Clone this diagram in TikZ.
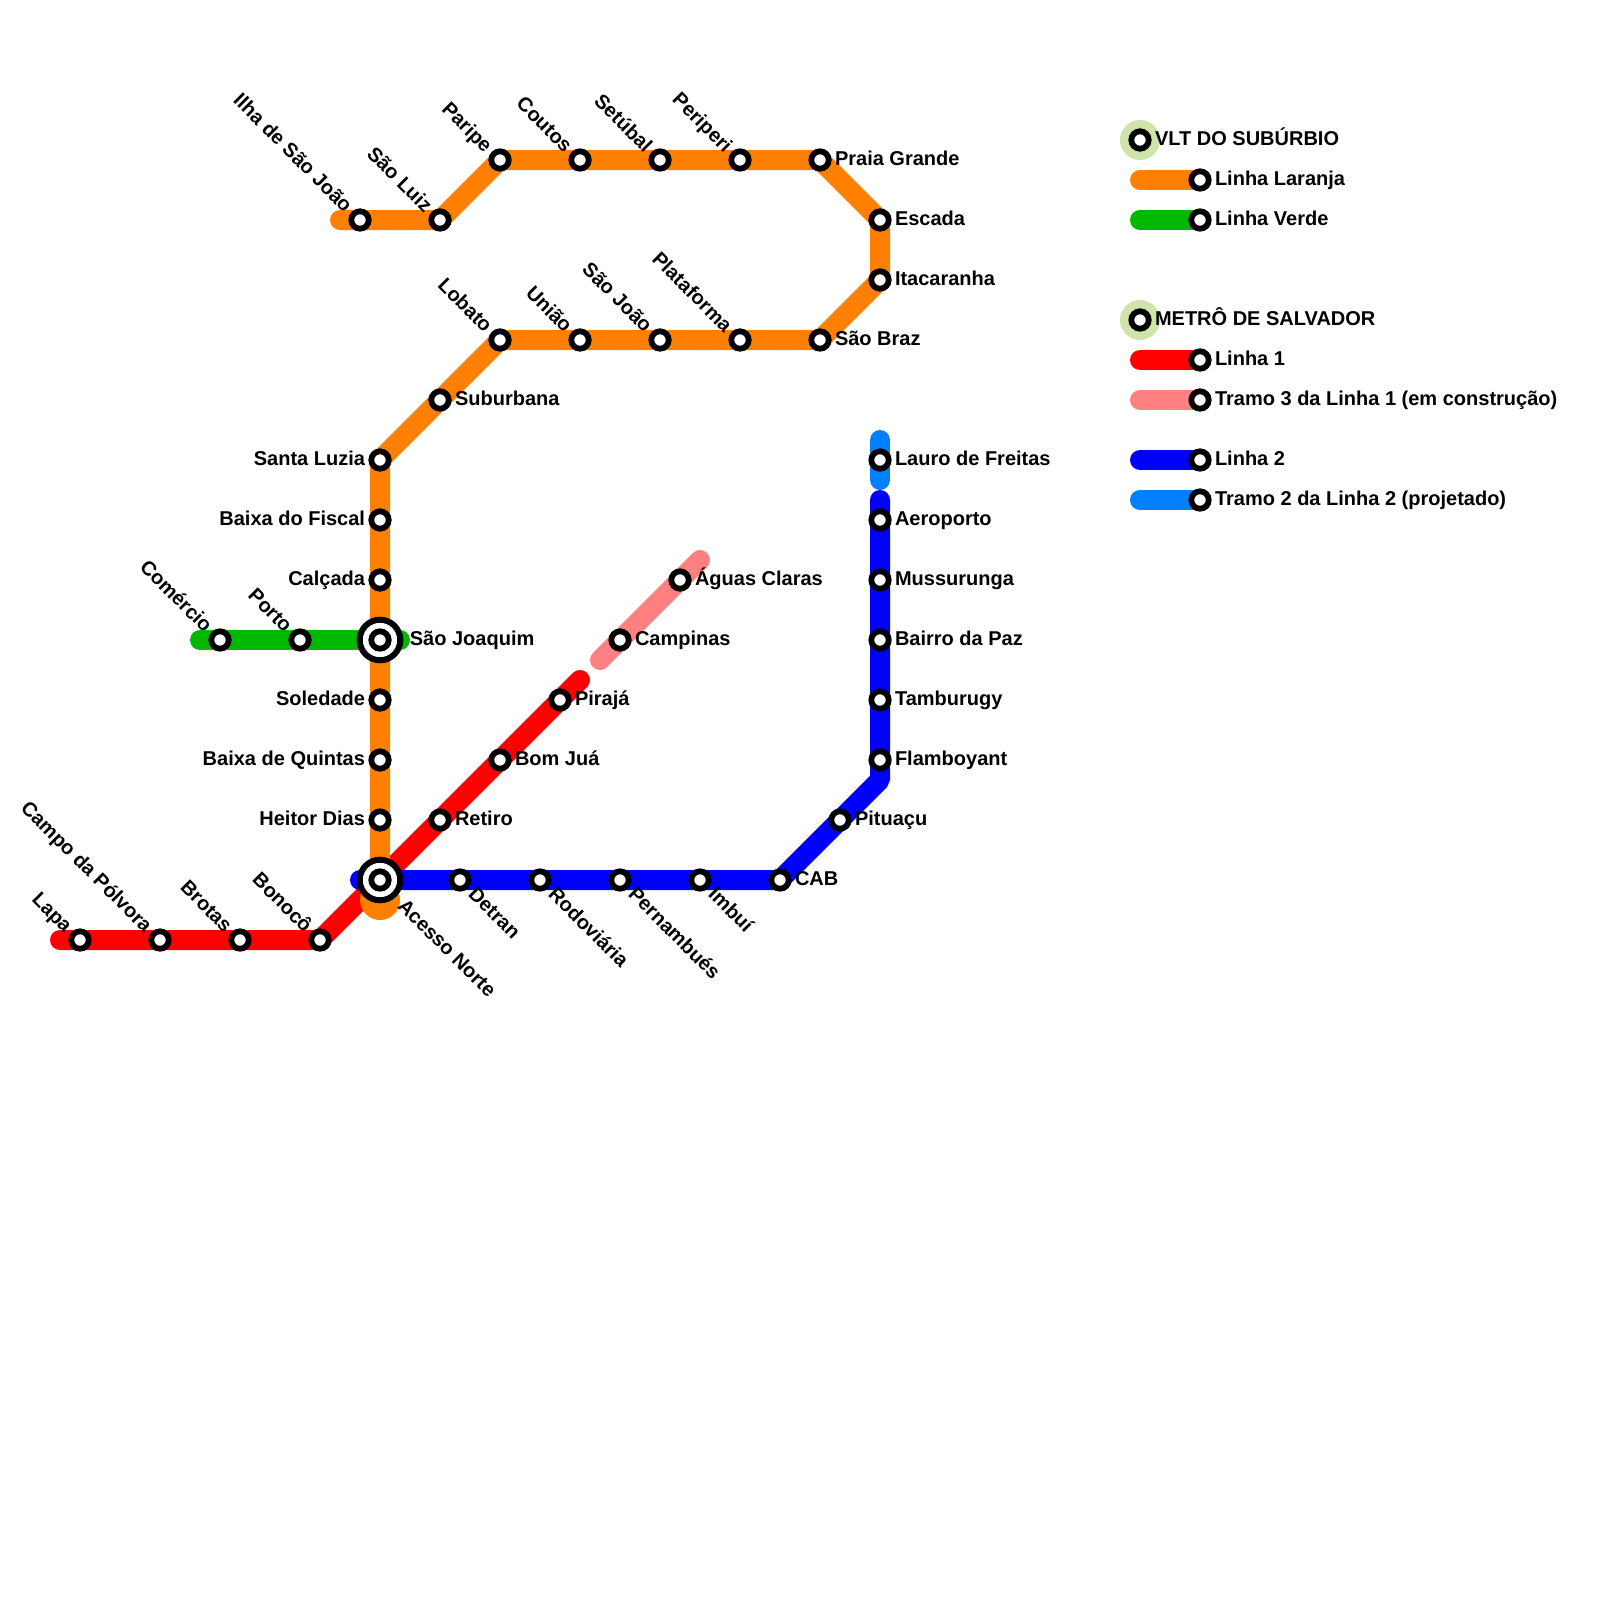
\documentclass[tikz,border=0pt]{standalone}
\usepackage{fontspec}
\setmainfont{Liberation Sans}
\usetikzlibrary{backgrounds}
\definecolor{lineorange}{HTML}{FF8000}
\definecolor{linegreen}{HTML}{00B800}
\definecolor{linered}{HTML}{FF0000}
\definecolor{linepink}{HTML}{FF8080}
\definecolor{lineblue}{HTML}{0000FF}
\definecolor{linesky}{HTML}{0080FF}
\definecolor{halo}{HTML}{CFE4A9}
\tikzset{
  metro/.style={line width=20pt,line cap=round,line join=bevel},
  stn/.style={circle,draw=black,fill=white,line width=5.8pt,minimum size=17.4pt,inner sep=0pt},
  hub/.style={circle,draw=black,fill=white,line width=6pt,minimum size=40.6pt,inner sep=0pt},
  tag/.style={font=\bfseries\fontsize{20}{22}\selectfont,text=black,inner sep=0pt,outer sep=0pt,label distance=0pt},
  tagr/.style={tag,anchor=base west,xshift=3.4pt,yshift=-5.3pt},
  tagl/.style={tag,anchor=base east,xshift=-3.4pt,yshift=-5.3pt},
  tagul/.style={tag,rotate=-45,anchor=base east,xshift=-4.2pt,yshift=-6.7pt},
  tagdr/.style={tag,rotate=-45,anchor=base west,xshift=4.6pt,yshift=-5.8pt},
}
\begin{document}
\begin{tikzpicture}[x=1pt,y=-1pt]
  \useasboundingbox (0,0) rectangle (1600,1600);
  \coordinate (rstart) at (60,940);
  \coordinate (rend) at (580,680);
  \coordinate (pstart) at (600,660);
  \coordinate (pend) at (700,560);
  \coordinate (ostart) at (340,220);
  \coordinate (gstart) at (200,640);
  \coordinate (gend) at (400,640);
  \coordinate (bstart) at (360,880);
  \coordinate (bbend) at (880,780);
  \coordinate (bend) at (880,500);
  \coordinate (sstart) at (880,440);
  \coordinate (send) at (880,480);
  \coordinate (korange) at (1140,180);
  \coordinate (kgreen) at (1140,220);
  \coordinate (kred) at (1140,360);
  \coordinate (kpink) at (1140,400);
  \coordinate (kblue) at (1140,460);
  \coordinate (ksky) at (1140,500);

  \node[hub,label={[tagr,xshift=3.2pt]0:São Joaquim}] (joaquim) at (380,640) {};
  \node[hub,label={[tagdr,xshift=3.1pt,yshift=-1.5pt]315:Acesso Norte}] (acesso) at (380,880) {};
  \node[stn] (joaquimin) at (380,640) {};
  \node[stn] (acessoin) at (380,880) {};

  \node[stn,label={[tagul]135:Lapa}] (lapa) at (80,940) {};
  \node[stn,label={[tagul]135:Campo da Pólvora}] (polvora) at (160,940) {};
  \node[stn,label={[tagul]135:Brotas}] (brotas) at (240,940) {};
  \node[stn,label={[tagul]135:Bonocô}] (bonoco) at (320,940) {};
  \node[stn,label={[tagr]0:Retiro}] (retiro) at (440,820) {};
  \node[stn,label={[tagr]0:Bom Juá}] (bomjua) at (500,760) {};
  \node[stn,label={[tagr]0:Pirajá}] (piraja) at (560,700) {};
  \node[stn,label={[tagr]0:Campinas}] (campinas) at (620,640) {};
  \node[stn,label={[tagr]0:Águas Claras}] (aguas) at (680,580) {};

  \node[stn,label={[tagul]135:Ilha de São João}] (ilha) at (360,220) {};
  \node[stn,label={[tagul]135:São Luiz}] (luiz) at (440,220) {};
  \node[stn,label={[tagul]135:Paripe}] (paripe) at (500,160) {};
  \node[stn,label={[tagul]135:Coutos}] (coutos) at (580,160) {};
  \node[stn,label={[tagul]135:Setúbal}] (setubal) at (660,160) {};
  \node[stn,label={[tagul]135:Periperi}] (periperi) at (740,160) {};
  \node[stn,label={[tagr]0:Praia Grande}] (praia) at (820,160) {};
  \node[stn,label={[tagr]0:Escada}] (escada) at (880,220) {};
  \node[stn,label={[tagr]0:Itacaranha}] (itacaranha) at (880,280) {};
  \node[stn,label={[tagr]0:São Braz}] (braz) at (820,340) {};
  \node[stn,label={[tagul]135:Plataforma}] (plataforma) at (740,340) {};
  \node[stn,label={[tagul]135:São João}] (saojoao) at (660,340) {};
  \node[stn,label={[tagul]135:União}] (uniao) at (580,340) {};
  \node[stn,label={[tagul]135:Lobato}] (lobato) at (500,340) {};
  \node[stn,label={[tagr]0:Suburbana}] (suburbana) at (440,400) {};
  \node[stn,label={[tagl]180:Santa Luzia}] (luzia) at (380,460) {};
  \node[stn,label={[tagl]180:Baixa do Fiscal}] (fiscal) at (380,520) {};
  \node[stn,label={[tagl]180:Calçada}] (calcada) at (380,580) {};
  \node[stn,label={[tagl]180:Soledade}] (soledade) at (380,700) {};
  \node[stn,label={[tagl]180:Baixa de Quintas}] (quintas) at (380,760) {};
  \node[stn,label={[tagl]180:Heitor Dias}] (heitor) at (380,820) {};

  \node[stn,label={[tagul]135:Comércio}] (comercio) at (220,640) {};
  \node[stn,label={[tagul]135:Porto}] (porto) at (300,640) {};

  \node[stn,label={[tagdr]315:Detran}] (detran) at (460,880) {};
  \node[stn,label={[tagdr]315:Rodoviária}] (rodoviaria) at (540,880) {};
  \node[stn,label={[tagdr]315:Pernambués}] (pernambues) at (620,880) {};
  \node[stn,label={[tagdr]315:Imbuí}] (imbui) at (700,880) {};
  \node[stn,label={[tagr]0:CAB}] (cab) at (780,880) {};
  \node[stn,label={[tagr]0:Pituaçu}] (pituacu) at (840,820) {};
  \node[stn,label={[tagr]0:Flamboyant}] (flamboyant) at (880,760) {};
  \node[stn,label={[tagr]0:Tamburugy}] (tamburugy) at (880,700) {};
  \node[stn,label={[tagr]0:Bairro da Paz}] (bairro) at (880,640) {};
  \node[stn,label={[tagr]0:Mussurunga}] (mussurunga) at (880,580) {};
  \node[stn,label={[tagr]0:Aeroporto}] (aeroporto) at (880,520) {};
  \node[stn,label={[tagr]0:Lauro de Freitas}] (lauro) at (880,460) {};

  \node[stn,label={[tagr]0:VLT DO SUBÚRBIO}] (vlt) at (1140,140) {};
  \node[stn,label={[tagr]0:Linha Laranja}] (laranja) at (1200,180) {};
  \node[stn,label={[tagr]0:Linha Verde}] (verde) at (1200,220) {};
  \node[stn,label={[tagr]0:METRÔ DE SALVADOR}] (metro) at (1140,320) {};
  \node[stn,label={[tagr]0:Linha 1}] (linha1) at (1200,360) {};
  \node[stn,label={[tagr]0:Tramo 3 da Linha 1 (em construção)}] (tramo3) at (1200,400) {};
  \node[stn,label={[tagr]0:Linha 2}] (linha2) at (1200,460) {};
  \node[stn,label={[tagr]0:Tramo 2 da Linha 2 (projetado)}] (tramo2) at (1200,500) {};

  \begin{pgfonlayer}{background}
    \fill[halo] (vlt.center) circle (20);
    \fill[halo] (metro.center) circle (20);
    \draw[metro,linered] (rstart) -- (lapa.center) -- (polvora.center) -- (brotas.center) -- (bonoco.center)
      -- (acesso.center) -- (retiro.center) -- (bomjua.center) -- (piraja.center) -- (rend);
    \draw[metro,linepink] (pstart) -- (campinas.center) -- (aguas.center) -- (pend);
    \draw[metro,linegreen] (gstart) -- (comercio.center) -- (porto.center) -- (joaquim.center) -- (gend);
    \draw[metro,lineorange] (ostart) -- (ilha.center) -- (luiz.center) -- (paripe.center) -- (coutos.center)
      -- (setubal.center) -- (periperi.center) -- (praia.center) -- (escada.center) -- (itacaranha.center)
      -- (braz.center) -- (plataforma.center) -- (saojoao.center) -- (uniao.center) -- (lobato.center)
      -- (suburbana.center) -- (luzia.center) -- (fiscal.center) -- (calcada.center) -- (joaquim.center)
      -- (soledade.center) -- (quintas.center) -- (heitor.center) -- (acesso.center);
    \fill[lineorange] ([yshift=-20pt]acesso.center) circle (20);
    \draw[metro,lineblue] (bstart) -- (detran.center) -- (rodoviaria.center) -- (pernambues.center)
      -- (imbui.center) -- (cab.center) -- (pituacu.center) -- (bbend) -- (flamboyant.center)
      -- (tamburugy.center) -- (bairro.center) -- (mussurunga.center) -- (aeroporto.center) -- (bend);
    \draw[metro,linesky] (sstart) -- (lauro.center) -- (send);
    \draw[metro,lineorange] (korange) -- (laranja.center);
    \draw[metro,linegreen] (kgreen) -- (verde.center);
    \draw[metro,linered] (kred) -- (linha1.center);
    \draw[metro,linepink] (kpink) -- (tramo3.center);
    \draw[metro,lineblue] (kblue) -- (linha2.center);
    \draw[metro,linesky] (ksky) -- (tramo2.center);
  \end{pgfonlayer}
\end{tikzpicture}
\end{document}
